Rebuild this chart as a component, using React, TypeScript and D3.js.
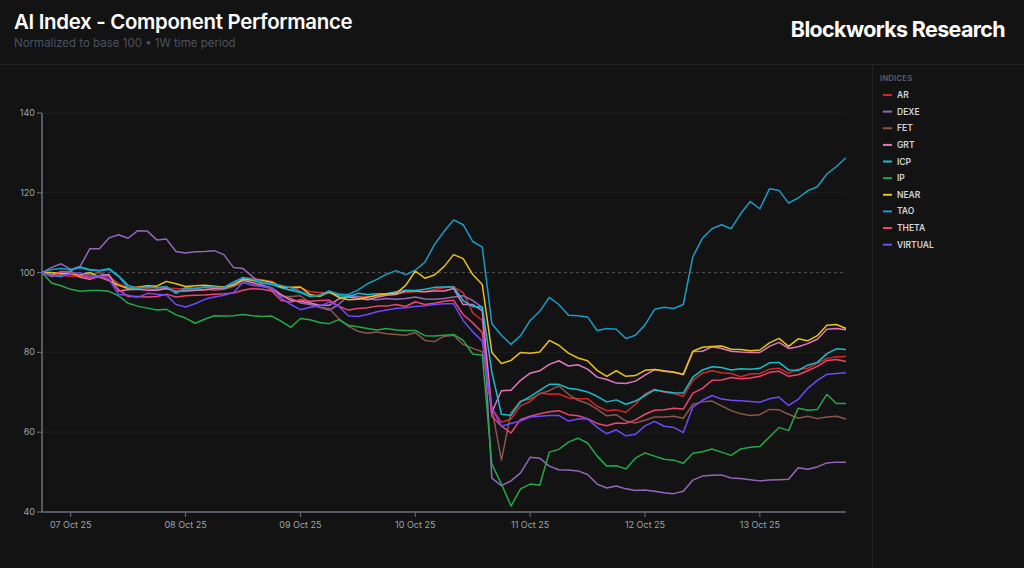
import React from "react";
import * as d3 from "d3";

const W = 1024;
const H = 568;

const SERIES_NAMES = ["AR", "DEXE", "FET", "GRT", "ICP", "IP", "NEAR", "TAO", "THETA", "VIRTUAL"];
const SERIES_COLORS = ["#d62728", "#9467bd", "#8c564b", "#e377c2", "#17becf", "#22aa4a", "#e8c21a", "#1a9cc9", "#ef4470", "#6d4aff"];

const START = new Date(2025, 9, 6, 18);
const END = new Date(2025, 9, 13, 18);
const TIMES = d3.timeHour.every(2)!.range(START, new Date(2025, 9, 13, 19));

const Y_TICKS = [40, 60, 80, 100, 120, 140];

const AR = [100, 99.6, 99.3, 99.1, 99, 99.1, 99.2, 99.1, 97.2, 96.2, 96.4, 96.4, 96.2, 96.1, 96, 95.8, 95.6, 95.7, 96, 96, 97.3, 98.8, 98.5, 98.2, 97.8, 96.5, 95.5, 96.3, 95.2, 95, 94.8, 94.7, 94.2, 94, 94, 94, 94.6, 94.8, 95, 95.2, 95.2, 95.8, 96.2, 96.5, 95, 89.9, 88, 66, 62.5, 63.3, 66.6, 67.7, 69.8, 69.5, 69.6, 68.6, 68.4, 68.4, 66.5, 65.4, 65.6, 65, 67, 69.6, 70.8, 70, 69.7, 69, 73, 74.8, 75.4, 74.9, 74.7, 73.9, 74.6, 74.7, 75.8, 76, 74.8, 75.7, 76, 77.3, 78.5, 78.9, 79];
const DEXE = [100, 101.3, 102.2, 100.8, 101.6, 106, 106, 108.7, 109.5, 108.6, 110.5, 110.4, 108.2, 108.4, 105.3, 104.9, 105.2, 105.3, 105.5, 104.5, 101.3, 101, 99, 97, 95.7, 94.2, 93.5, 92.4, 92, 91.3, 90.6, 92, 94.2, 94, 93.4, 93.2, 93.5, 93.3, 93.5, 93.9, 93.4, 93.3, 93.5, 93.9, 94.2, 93, 91.3, 48.5, 46.6, 47.8, 49.8, 53.7, 53.5, 51.5, 50.6, 50.5, 50.3, 49.4, 47, 46, 46.5, 45.8, 45.4, 45.5, 45.2, 44.8, 44.6, 45.2, 48, 49, 49.2, 49.3, 48.5, 48.4, 48.1, 47.8, 48, 48.1, 48.2, 51.1, 50.7, 51.3, 52.3, 52.5, 52.5];
const FET = [100, 99.5, 99.3, 99.6, 99, 99.5, 100, 99, 97, 95.8, 96.3, 96, 95.6, 96, 95.2, 95.6, 95.5, 95.8, 95.6, 95.8, 96.5, 97.5, 97, 96.5, 96, 94, 94, 94.2, 92.4, 91.4, 91, 88.5, 86.6, 85.3, 84.8, 85.1, 84.7, 84.5, 84.3, 85, 83, 82.7, 84, 84.3, 82, 81, 80.2, 66, 53, 64.9, 67.8, 68.3, 69.6, 70.4, 71.6, 69.5, 68, 67.2, 65.8, 64.1, 64.4, 62.8, 62.3, 63, 63.8, 63.8, 64, 63.5, 67, 67.6, 67.8, 66.6, 65.4, 64.6, 64.2, 64.4, 65.7, 65.6, 64.5, 63.5, 64, 63.4, 63.8, 64, 63.3];
const GRT = [100, 99.4, 100.2, 100.3, 98.8, 98.3, 99.3, 99.5, 95.4, 95.7, 95.8, 95.6, 95.6, 96, 95.3, 95.4, 95.6, 95.7, 96, 96, 97, 98, 97.5, 96.8, 96.2, 94.5, 93, 92.8, 92.4, 91.8, 91.8, 93.4, 93.9, 93.6, 93.2, 93.8, 94.3, 94.5, 95.4, 95.4, 95.2, 95.4, 95.4, 96, 92, 92, 90.5, 65, 70.4, 70.5, 73, 74.8, 75.4, 77, 77.9, 76.6, 76.9, 75.8, 73.8, 73.2, 72.3, 72.2, 72.8, 74.3, 75.7, 75.4, 75.1, 74.4, 80.2, 80.3, 81.4, 81, 80.3, 80.1, 80, 80, 81.5, 82.5, 81, 81.4, 82.2, 83.3, 85.8, 86, 85.7];
const ICP = [100, 99.3, 99, 100.5, 101.4, 100.8, 100.5, 101, 99.2, 96.8, 96, 96.6, 96.2, 96.5, 94.8, 96.2, 96, 96.4, 96.4, 96.3, 97.6, 98.5, 98, 97.4, 97, 96.2, 95.6, 95, 94, 94.4, 95.4, 94.2, 94, 94.8, 94.5, 94.7, 94.7, 95.2, 95.6, 95.5, 95.8, 96.3, 96.4, 96.4, 93, 91.5, 91.4, 75, 64.5, 64.2, 67.6, 68.9, 70.5, 72, 72, 71, 70.7, 70.1, 69, 67.6, 68.1, 67, 67.8, 69.2, 70.6, 70.2, 69.9, 69.8, 73.8, 75.6, 76.4, 76.2, 75.6, 75.9, 75.8, 76, 77.4, 77.5, 75.6, 75.5, 76.8, 77.5, 79.7, 80.9, 80.7];
const IP = [100, 97.4, 96.7, 95.8, 95.3, 95.5, 95.5, 95.3, 94.2, 92.3, 91.6, 91.1, 90.6, 90.8, 89.4, 88.6, 87.3, 88.3, 89.2, 89.1, 89.2, 89.5, 89.2, 89, 89.1, 87.8, 86.3, 88.5, 88.2, 87.5, 87.2, 88.2, 86.8, 86.4, 86, 85.6, 86, 85.6, 85.5, 85.5, 84.2, 84.1, 84.3, 84.5, 83, 79.6, 79.3, 52, 47, 41.5, 45.8, 47, 46.7, 55, 55.7, 57.5, 58.5, 57.3, 54, 51.5, 51.6, 50.8, 53.5, 54.8, 54, 53.2, 53, 52.2, 54.7, 55.1, 55.8, 55, 54.2, 55.8, 56.2, 56.4, 58.8, 61.2, 60.4, 66, 65.5, 65.7, 69.5, 67.2, 67.2];
const NEAR = [100, 100, 99.7, 99.7, 99.4, 100, 98.9, 98, 96.8, 96.1, 96.3, 96.7, 96.6, 97.8, 97.2, 96.5, 96.7, 96.8, 96.6, 96.4, 96.8, 98.3, 98.2, 98, 97.6, 96.4, 96.3, 96.4, 94.5, 94, 95.2, 93.8, 93.2, 93.3, 93.8, 94.3, 94.7, 94.8, 96.8, 100.4, 98.6, 99.4, 101.5, 104.5, 103.5, 99.5, 97, 80, 77.2, 78, 80, 79.8, 80.1, 83, 81.8, 79.8, 78.6, 77.9, 75.5, 74, 75.4, 74, 74.2, 75.5, 75.7, 75.3, 75, 74.5, 80.3, 81.3, 81.5, 81.6, 80.8, 80.7, 80.4, 80.6, 82.4, 83.5, 81.5, 83.4, 82.9, 84.2, 86.8, 87, 86];
const TAO = [100, 100.8, 101, 100.8, 101.2, 100.6, 100.4, 100.8, 99, 96.2, 96.2, 96.4, 96.2, 96.4, 95, 96, 96, 96.3, 96.4, 96.2, 97.6, 98.8, 98.3, 97.8, 97.2, 96.8, 96.2, 95.3, 94.2, 94.2, 95.4, 94.6, 94.5, 95.6, 97.2, 98.3, 99.6, 100.5, 99.5, 100.6, 102.6, 107, 110.3, 113.2, 112, 107.8, 106.4, 87.2, 84.3, 82, 84.2, 88, 90.3, 93.8, 92, 89.3, 89.2, 88.9, 85.5, 86, 85.8, 83.5, 84.3, 86.9, 90.8, 91.3, 91, 92, 104, 108.6, 111, 112, 111, 114.8, 117.8, 116, 121, 120.6, 117.4, 118.7, 120.5, 121.5, 124.7, 126.6, 128.8];
const THETA = [100, 99, 100.3, 100.2, 99.3, 98.6, 98.9, 98.1, 95.8, 94, 94, 93.9, 94, 94.6, 93.9, 94.2, 94.3, 94.4, 94.6, 94.7, 94.9, 95.6, 96, 95.8, 95.4, 93, 92.6, 93.2, 92.8, 93, 93.1, 91.6, 90.6, 91, 91.2, 91.6, 91.6, 92, 91.5, 92.7, 92, 92.3, 92.8, 93.1, 89.5, 87.4, 85, 64, 61.5, 59.8, 63.2, 64, 64.6, 65.1, 65.4, 64.4, 64.1, 63.4, 62.2, 61.6, 62.3, 62.2, 63.1, 64.5, 65.5, 65.6, 66, 65.8, 69.8, 71, 73, 73.1, 73.7, 73.4, 73.6, 74, 75, 75.3, 74, 74.4, 75.4, 76.5, 78, 78.2, 77.7];
const VIRTUAL = [100, 99.2, 99.2, 99.7, 100, 99, 99.2, 98.4, 94.5, 94.3, 93.8, 94.8, 94.6, 94.4, 92, 91.4, 92.2, 93.3, 93.9, 94.3, 95, 97.5, 96.8, 96.6, 96.2, 93.6, 92, 90.7, 91.3, 91.6, 92.6, 91.6, 89.2, 89, 89.5, 90.2, 90.6, 91, 91.2, 91.5, 91.7, 92, 92.2, 92.2, 88, 85.2, 82.8, 66, 61.5, 62.2, 62.8, 63.8, 64, 64.2, 64.2, 62.8, 63.3, 63.3, 61.2, 59.6, 60.6, 59.1, 59.5, 61.6, 62.7, 61.5, 61.2, 59.9, 66.3, 68, 69.2, 68.3, 68, 67.9, 67.7, 67.5, 68.4, 68.8, 66.7, 68.2, 71, 73, 74.5, 74.7, 74.9];

const SERIES_VALUES = [AR, DEXE, FET, GRT, ICP, IP, NEAR, TAO, THETA, VIRTUAL];

const FONT = "Inter, 'Noto Sans', sans-serif";

export default function App() {
  const m = { left: 42, right: 846, top: 113, bottom: 512 };
  const x = d3.scaleTime().domain([START, END]).range([m.left, m.right]);
  const y = d3.scaleLinear().domain([40, 140]).range([m.bottom, m.top]);
  const xTicks = d3.timeDay.range(new Date(2025, 9, 7), new Date(2025, 9, 14));
  const fmt = d3.timeFormat("%d %b %y");

  const line = d3
    .line<number>()
    .x((_, i) => x(TIMES[i]))
    .y((v) => y(v))
    .curve(d3.curveLinear);

  return (
    <svg
      width={W}
      height={H}
      style={{ position: "absolute", left: 0, top: 0, background: "#131313", fontFamily: FONT }}
    >
      <rect x={0} y={0} width={W} height={H} fill="#131313" />
      {/* header */}
      <text x={14} y={29} fill="#ffffff" fontSize={20.4} fontWeight={600} letterSpacing={-0.3}>
        AI Index - Component Performance
      </text>
      <text x={14} y={47} fill="#4b5260" fontSize={11.5}>
        Normalized to base 100 • 1W time period
      </text>
      <text x={1005} y={37} fill="#ffffff" fontSize={21.4} fontWeight={700} textAnchor="end" letterSpacing={-0.6}>
        Blockworks Research
      </text>
      <line x1={0} x2={W} y1={64.5} y2={64.5} stroke="#222222" />
      <line x1={872.5} x2={872.5} y1={65} y2={H} stroke="#222222" />

      {/* grid */}
      {Y_TICKS.filter((t) => t !== 100 && t !== 40).map((t) => (
        <line key={t} x1={m.left} x2={m.right} y1={y(t)} y2={y(t)} stroke="#1e1e1e" />
      ))}
      <line x1={m.left} x2={m.right} y1={y(100)} y2={y(100)} stroke="#555555" strokeDasharray="3,3" />

      {/* axes */}
      <line x1={m.left} x2={m.left} y1={m.top} y2={m.bottom} stroke="#6b7280" strokeWidth={1.5} />
      <line x1={m.left} x2={m.right} y1={m.bottom} y2={m.bottom} stroke="#6b7280" strokeWidth={1.5} />
      {Y_TICKS.map((t) => (
        <g key={t}>
          <line x1={m.left - 5} x2={m.left} y1={y(t)} y2={y(t)} stroke="#6b7280" />
          <text x={m.left - 7} y={y(t) + 3} fill="#9ca3af" fontSize={9} textAnchor="end">
            {t}
          </text>
        </g>
      ))}
      {xTicks.map((d) => (
        <g key={+d}>
          <line x1={x(d)} x2={x(d)} y1={m.bottom} y2={m.bottom + 5} stroke="#6b7280" />
          <text x={x(d)} y={m.bottom + 16} fill="#9ca3af" fontSize={9} textAnchor="middle">
            {fmt(d)}
          </text>
        </g>
      ))}

      {/* lines */}
      {SERIES_VALUES.map((vals, k) => (
        <path
          key={SERIES_NAMES[k]}
          d={line(vals) || ""}
          fill="none"
          stroke={SERIES_COLORS[k]}
          strokeWidth={1.5}
          strokeLinejoin="round"
        />
      ))}

      {/* legend */}
      <text x={880} y={81} fill="#5b6270" fontSize={7.5} fontWeight={600} letterSpacing={0.3}>
        INDICES
      </text>
      {SERIES_NAMES.map((n, k) => (
        <g key={n} transform={`translate(883, ${95 + k * 16.63})`}>
          <line x1={0} x2={9} y1={0} y2={0} stroke={SERIES_COLORS[k]} strokeWidth={2} />
          <text x={14} y={3} fill="#d4d4d8" fontSize={8.5} fontWeight={600}>
            {n}
          </text>
        </g>
      ))}
    </svg>
  );
}
